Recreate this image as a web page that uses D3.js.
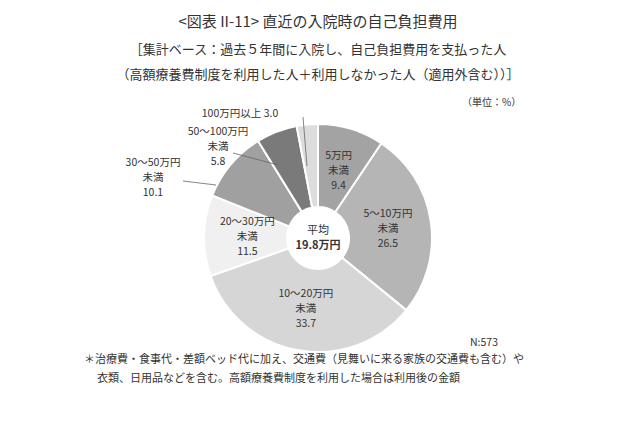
<!DOCTYPE html>
<html><head><meta charset="utf-8">
<script src="https://cdn.jsdelivr.net/npm/d3@7"></script>
<style>body{margin:0;background:#fff}text{font-family:"Noto Sans CJK JP";fill:#333}</style>
</head><body>
<script>
const labels = [["5万円","未満"],["5～10万円","未満"],["10～20万円","未満"],["20～30万円","未満"],["30～50万円","未満"],["50～100万円","未満"],["100万円以上"]]
const values = [9.4, 26.5, 33.7, 11.5, 10.1, 5.8, 3.0]
const colors = ["#a3a3a3","#b5b5b5","#d6d6d6","#f0f0f0","#a0a0a0","#7a7a7a","#dcdcdc"]

const svg = d3.select("body").append("svg").attr("width", 640).attr("height", 426)
const cx = 318, cy = 238, R = 114, r0 = 31

svg.append("text").attr("x", 318).attr("y", 27).attr("text-anchor", "middle")
  .attr("font-size", 15).text("<図表 II-11> 直近の入院時の自己負担費用")
svg.append("text").attr("x", 318).attr("y", 54).attr("text-anchor", "middle")
  .attr("font-size", 13).text("［集計ベース：過去５年間に入院し、自己負担費用を支払った人")
svg.append("text").attr("x", 318).attr("y", 79).attr("text-anchor", "middle")
  .attr("font-size", 13).text("（高額療養費制度を利用した人＋利用しなかった人（適用外含む））］")
svg.append("text").attr("x", 462).attr("y", 106).attr("font-size", 10).text("（単位：%）")

const pie = d3.pie().sort(null).value(d => d)
const arc = d3.arc().innerRadius(r0).outerRadius(R)
const arcs = pie(values)
const g = svg.append("g").attr("transform", `translate(${cx},${cy})`)
g.selectAll("path").data(arcs).enter().append("path")
  .attr("d", arc).attr("fill", (d, i) => colors[i])
  .attr("stroke", "#fff").attr("stroke-width", 2)

// inside labels for large slices
const inArc = d3.arc().innerRadius(R * 0.62).outerRadius(R * 0.62)
arcs.forEach((d, i) => {
  if (i > 3) return
  const [x, y] = inArc.centroid(d)
  const lines = [...labels[i], values[i].toFixed(1)]
  lines.forEach((t, k) => g.append("text").attr("x", x).attr("y", y + (k - 1) * 15 + 4)
    .attr("text-anchor", "middle").attr("font-size", 10.5).text(t))
})

// outside labels
const outPos = [null, null, null, null, [-165, -72], [-100, -103], [-78, -121]]
const lineEnds = [null, null, null, null, [-102, -53], [-40, -73], [-11, -72]]
const lineStarts = [null, null, null, null, [-135, -57], [-85, -85], [-15, -121]]
arcs.forEach((d, i) => {
  if (i < 4) return
  const [x, y] = outPos[i]
  const lines = i === 6 ? ["100万円以上 3.0"] : [...labels[i], values[i].toFixed(1)]
  lines.forEach((t, k) => g.append("text").attr("x", x).attr("y", y + k * 15)
    .attr("text-anchor", "middle").attr("font-size", 10.5).text(t))
  g.append("path").attr("fill", "none").attr("stroke", "#666").attr("stroke-width", 0.8)
    .attr("d", d3.line()([lineStarts[i], lineEnds[i]]))
})

g.append("text").attr("y", -4).attr("text-anchor", "middle").attr("font-size", 11).text("平均")
g.append("text").attr("y", 11).attr("text-anchor", "middle").attr("font-size", 11).attr("font-weight", "bold").text("19.8万円")

svg.append("text").attr("x", 470).attr("y", 346).attr("font-size", 10.5).text("N:573")
svg.append("text").attr("x", 84).attr("y", 363).attr("font-size", 11)
  .text("＊治療費・食事代・差額ベッド代に加え、交通費（見舞いに来る家族の交通費も含む）や")
svg.append("text").attr("x", 97).attr("y", 382).attr("font-size", 11)
  .text("衣類、日用品などを含む。高額療養費制度を利用した場合は利用後の金額")
</script>
</body></html>
